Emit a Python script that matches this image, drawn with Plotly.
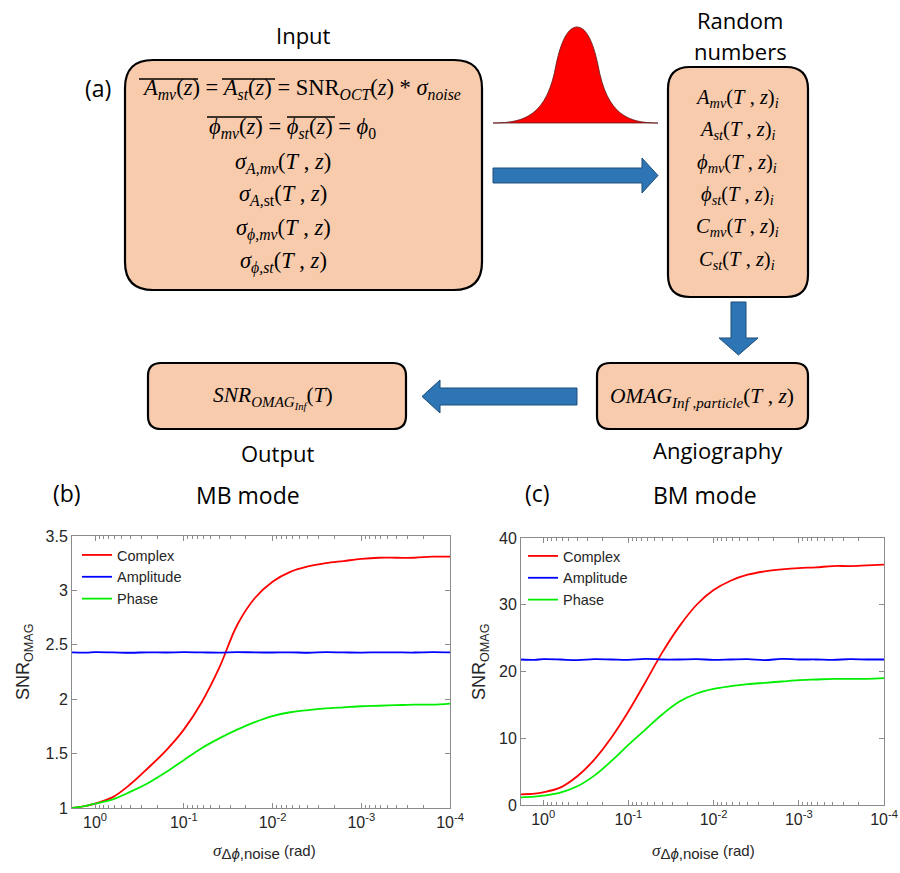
import plotly.graph_objects as go

W, H = 900, 873
def px(x): return x / W
def py(y): return 1 - y / H

# ---------------- data ----------------
sigma_noise = [1.82, 1.26, 1.0, 0.631, 0.398, 0.251, 0.158, 0.1, 0.0631, 0.0398,
               0.0251, 0.0158, 0.01, 0.00631, 0.00398, 0.00251, 0.00158, 0.001,
               0.000631, 0.000398, 0.000251, 0.000158, 0.0001]

mb_complex = [1.00, 1.02, 1.04, 1.10, 1.22, 1.37, 1.53, 1.72, 1.97, 2.29, 2.68, 2.93,
              3.08, 3.17, 3.22, 3.25, 3.27, 3.29, 3.30, 3.30, 3.30, 3.31, 3.31]
mb_amplitude = [2.430, 2.428, 2.432, 2.430, 2.427, 2.431, 2.429, 2.432, 2.430, 2.428,
                2.433, 2.430, 2.429, 2.431, 2.427, 2.432, 2.430, 2.428, 2.431, 2.430,
                2.429, 2.432, 2.430]
mb_phase = [1.00, 1.02, 1.04, 1.08, 1.15, 1.23, 1.33, 1.44, 1.55, 1.64, 1.72, 1.79,
            1.845, 1.88, 1.90, 1.915, 1.925, 1.935, 1.94, 1.945, 1.95, 1.95, 1.96]

bm_complex = [1.6, 1.7, 1.9, 2.6, 4.3, 6.8, 10.1, 14.0, 18.4, 22.9, 26.8, 30.0,
              32.2, 33.6, 34.5, 35.0, 35.3, 35.5, 35.6, 35.8, 35.8, 35.9, 36.0]
bm_amplitude = [21.8, 21.75, 21.85, 21.8, 21.7, 21.85, 21.8, 21.75, 21.9, 21.8,
                21.8, 21.85, 21.75, 21.8, 21.85, 21.7, 21.9, 21.8, 21.8, 21.75,
                21.85, 21.8, 21.8]
bm_phase = [1.15, 1.25, 1.4, 1.85, 2.8, 4.4, 6.6, 9.0, 11.3, 13.6, 15.5, 16.7,
            17.4, 17.8, 18.1, 18.3, 18.5, 18.7, 18.8, 18.9, 18.9, 18.9, 19.0]

series_names = ["Complex", "Amplitude", "Phase"]
series_colors = ["#ff0000", "#0000ff", "#00ee00"]

x_tickvals = [1, 0.1, 0.01, 0.001, 0.0001]
x_ticktext = ["10<sup>0</sup>", "10<sup>-1</sup>", "10<sup>-2</sup>", "10<sup>-3</sup>", "10<sup>-4</sup>"]
mb_yticks = [1, 1.5, 2, 2.5, 3, 3.5]
bm_yticks = [0, 10, 20, 30, 40]

minor_vals = [k * 10 ** e for e in range(-1, -5, -1) for k in range(2, 10)]

# ---------------- figure ----------------
fig = go.Figure()

for vals, name, col in zip([mb_complex, mb_amplitude, mb_phase], series_names, series_colors):
    fig.add_trace(go.Scatter(x=sigma_noise, y=vals, mode="lines", name=name,
                             line=dict(color=col, width=1.8, shape="spline"),
                             xaxis="x", yaxis="y", legend="legend"))
for vals, name, col in zip([bm_complex, bm_amplitude, bm_phase], series_names, series_colors):
    fig.add_trace(go.Scatter(x=sigma_noise, y=vals, mode="lines", name=name,
                             line=dict(color=col, width=1.8, shape="spline"),
                             xaxis="x2", yaxis="y2", legend="legend2"))

axis_col = "#8c8c8c"
tickfont = dict(family="Liberation Sans, Arial", size=16, color="#262626")

def xax(domain, anchor):
    return dict(type="log", range=[0.26, -4], domain=domain, anchor=anchor,
                tickmode="array", tickvals=x_tickvals, ticktext=x_ticktext,
                ticks="inside", ticklen=5, tickcolor=axis_col, mirror="allticks",
                showline=True, linecolor=axis_col, linewidth=1, showgrid=False,
                zeroline=False, tickfont=tickfont, automargin=False,
                minor=dict(tickmode="array", tickvals=minor_vals, ticks="inside",
                           ticklen=3, tickcolor=axis_col, showgrid=False))

def yax(domain, anchor, rng, tv):
    return dict(range=rng, domain=domain, anchor=anchor, tickmode="array",
                tickvals=tv, ticktext=[str(v) for v in tv],
                ticks="inside", ticklen=5, tickcolor=axis_col, mirror="allticks",
                showline=True, linecolor=axis_col, linewidth=1, showgrid=False,
                zeroline=False, tickfont=tickfont, automargin=False)

legfont = dict(family="Liberation Sans, Arial", size=14.5, color="#262626")
fig.update_layout(
    width=W, height=H, margin=dict(l=0, r=0, t=0, b=0, autoexpand=False),
    paper_bgcolor="white", plot_bgcolor="white",
    xaxis=xax([px(72), px(450)], "y"),
    yaxis=yax([py(808), py(536)], "x", [1, 3.5], mb_yticks),
    xaxis2=xax([px(521), px(884)], "y2"),
    yaxis2=yax([py(805), py(538)], "x2", [0, 40], bm_yticks),
    legend=dict(x=px(77), y=py(539), xanchor="left", yanchor="top",
                bgcolor="rgba(0,0,0,0)", borderwidth=0, itemwidth=30,
                font=legfont, tracegroupgap=0),
    legend2=dict(x=px(523), y=py(540), xanchor="left", yanchor="top",
                 bgcolor="rgba(0,0,0,0)", borderwidth=0, itemwidth=30,
                 font=legfont, tracegroupgap=0),
    showlegend=True,
)

# ---------------- diagram (a) ----------------
shapes = []
peach = "#f8cbad"
blue = "#2e75b6"

def P(x, y):
    return f"{px(x):.5f},{py(y):.5f}"

def rrect(x0, y0, x1, y1, r):
    d = (f"M{P(x0+r, y0)} L{P(x1-r, y0)} Q{P(x1, y0)} {P(x1, y0+r)} "
         f"L{P(x1, y1-r)} Q{P(x1, y1)} {P(x1-r, y1)} L{P(x0+r, y1)} "
         f"Q{P(x0, y1)} {P(x0, y1-r)} L{P(x0, y0+r)} Q{P(x0, y0)} {P(x0+r, y0)} Z")
    return dict(type="path", xref="paper", yref="paper", path=d,
                fillcolor=peach, line=dict(color="black", width=2.2), layer="below")

def poly(pts, fill, line):
    d = "M" + " L".join(P(x, y) for x, y in pts) + " Z"
    return dict(type="path", xref="paper", yref="paper", path=d,
                fillcolor=fill, line=dict(color=line, width=1))

shapes.append(rrect(125, 60, 482, 290, 28))   # input
shapes.append(rrect(668, 67, 808, 297, 22))   # random numbers
shapes.append(rrect(148, 363, 406, 429, 13))  # output
shapes.append(rrect(597, 363, 808, 429, 13))  # angiography

# arrows
shapes.append(poly([(493, 168), (642, 168), (642, 158), (658, 175.5), (642, 193),
                    (642, 183), (493, 183)], blue, "#1f4e79"))
shapes.append(poly([(731, 302), (746, 302), (746, 338), (758, 338), (738.5, 355),
                    (719, 338), (731, 338)], blue, "#1f4e79"))
shapes.append(poly([(577, 388), (440, 388), (440, 380), (422, 396.5), (440, 413),
                    (440, 405), (577, 405)], blue, "#1f4e79"))

# gaussian bell
bell = (f"M{P(493,123)} C{P(525,123)} {P(547,115)} {P(556,65)} "
        f"C{P(561,41)} {P(568,27)} {P(577,27)} "
        f"C{P(586,27)} {P(593,41)} {P(598,65)} "
        f"C{P(607,115)} {P(628,123)} {P(658,123)} Z")
shapes.append(dict(type="path", xref="paper", yref="paper", path=bell,
                   fillcolor="#ff0000", line=dict(color="#5a1a1a", width=0.8)))

# overlines
for (x0, x1, y) in [(139, 198, 79), (222, 275, 79), (207, 262, 117), (287, 335, 117)]:
    shapes.append(dict(type="line", xref="paper", yref="paper",
                       x0=px(x0), x1=px(x1), y0=py(y), y1=py(y),
                       line=dict(color="black", width=1.4)))

fig.update_layout(shapes=shapes)

ann = []
def txt(x, y, s, size, family="Open Sans", color="black", **kw):
    d = dict(x=px(x), y=py(y), xref="paper", yref="paper", text=s, showarrow=False,
             xanchor="center", yanchor="middle",
             font=dict(family=family, size=size, color=color))
    d.update(kw)
    ann.append(d)

serif = "Liberation Serif, Times New Roman"
txt(303, 35, "Input", 22)
txt(98, 88, "(a)", 23)
txt(740, 20, "Random", 22)
txt(740, 51, "numbers", 22)
txt(277, 453, "Output", 22)
txt(718, 450, "Angiography", 22)

# input box lines
E = 22.5
txt(301, 89, "<i>A<sub>mv</sub></i>(<i>z</i>) = <i>A<sub>st</sub></i>(<i>z</i>) = SNR<sub><i>OCT</i></sub>(<i>z</i>) * <i>σ<sub>noise</sub></i>", E, serif)
txt(292, 128, "<i>ϕ<sub>mv</sub></i>(<i>z</i>) = <i>ϕ<sub>st</sub></i>(<i>z</i>) = <i>ϕ</i><sub>0</sub>", E, serif)
txt(283, 163, "<i>σ<sub>A,mv</sub></i>(<i>T</i> , <i>z</i>)", E, serif)
txt(283, 195, "<i>σ<sub>A,</sub></i><sub>st</sub>(<i>T</i> , <i>z</i>)", E, serif)
txt(283, 230, "<i>σ<sub>ϕ,mv</sub></i>(<i>T</i> , <i>z</i>)", E, serif)
txt(283, 262, "<i>σ<sub>ϕ,st</sub></i>(<i>T</i> , <i>z</i>)", E, serif)

# random numbers lines
rn = ["<i>A<sub>mv</sub></i>(<i>T</i> , <i>z</i>)<sub><i>i</i></sub>",
      "<i>A<sub>st</sub></i>(<i>T</i> , <i>z</i>)<sub><i>i</i></sub>",
      "<i>ϕ<sub>mv</sub></i>(<i>T</i> , <i>z</i>)<sub><i>i</i></sub>",
      "<i>ϕ<sub>st</sub></i>(<i>T</i> , <i>z</i>)<sub><i>i</i></sub>",
      "<i>C<sub>mv</sub></i>(<i>T</i> , <i>z</i>)<sub><i>i</i></sub>",
      "<i>C<sub>st</sub></i>(<i>T</i> , <i>z</i>)<sub><i>i</i></sub>"]
for i, s in enumerate(rn):
    txt(737, 98 + 32.5 * i, s, 20.5, serif)

txt(273, 398, "<i>SNR<sub>OMAG<sub>Inf</sub></sub></i>(<i>T</i>)", 21.5, serif)
txt(702, 398, "<i>OMAG<sub>Inf ,particle</sub></i>(<i>T</i> , <i>z</i>)", 21.5, serif)

# panel labels / titles
txt(67, 493, "(b)", 23)
txt(248, 495, "MB mode", 23)
txt(537, 493, "(c)", 23)
txt(705, 495, "BM mode", 23)

axf = "Liberation Sans, Arial"
txt(24, 662, "SNR<sub>OMAG</sub>", 18, axf, "#262626", textangle=-90)
txt(480, 662, "SNR<sub>OMAG</sub>", 18, axf, "#262626", textangle=-90)
xtitle = ("<span style='font-family:Liberation Serif;font-size:17px'><i>σ</i></span>"
          "<sub><span style='font-size:15px'>Δ<i>ϕ</i>,noise</span></sub> (rad)")
txt(264, 851, xtitle, 15, axf, "#262626")
txt(703, 851, xtitle, 15, axf, "#262626")

fig.update_layout(annotations=ann)
fig.write_html("out.html")
